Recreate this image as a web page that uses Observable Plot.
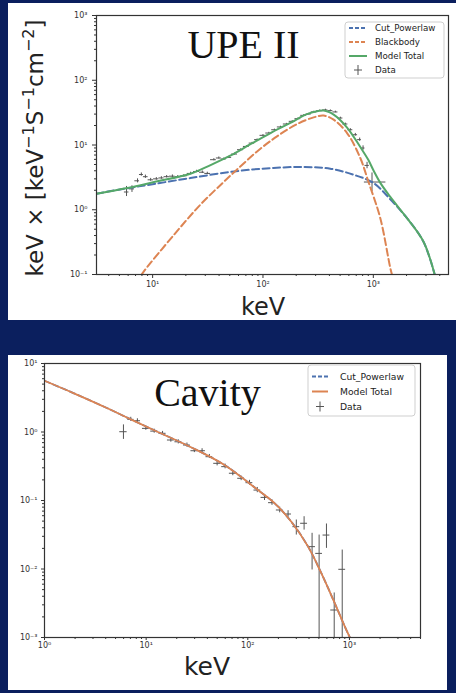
<!DOCTYPE html>
<html>
<head>
<meta charset="utf-8">
<script src="https://cdn.jsdelivr.net/npm/d3@7"></script>
<script src="https://cdn.jsdelivr.net/npm/@observablehq/plot@0.6"></script>
<style>
  html, body { margin: 0; padding: 0; }
  body { background: #0b1f5e; width: 456px; height: 693px; overflow: hidden; position: relative; font-family: "DejaVu Sans", sans-serif; }
  .panel { position: absolute; background: white; }
  #ov { position: absolute; left: 0; top: 0; pointer-events: none; }
</style>
</head>
<body>
<div id="top" class="panel" style="left:8px;top:3px;width:448px;height:317px"></div>
<div id="bot" class="panel" style="left:8px;top:355px;width:439px;height:335px"></div>
<svg id="ov" width="456" height="693"></svg>
<script>
// ---------- UPE II panel data ----------
const upeTitle = "UPE II";
const upeXTicks = [10, 100, 1000];
const upeYTicks = [0.1, 1, 10, 100, 1000];

const upeCplE = [3.1, 5.9, 10.3, 22, 54.5, 117, 234, 407, 664, 1007, 1425, 2020, 2850, 3600];
const upeCplF = [1.77, 2.15, 2.5, 3.09, 3.9, 4.4, 4.57, 4.3, 3.47, 2.58, 1.45, 0.74, 0.32, 0.1];

const upeBbE = [7.9, 8.3, 15.6, 27, 44, 58, 88.5, 134, 204, 288, 355, 437, 578, 762, 900, 1157, 1425, 1500];
const upeBbF = [0.098, 0.111, 0.41, 1.19, 2.68, 4.15, 7.95, 13.6, 21.1, 26.7, 28.5, 24.6, 15.3, 6.3, 2.74, 0.74, 0.126, 0.09];

const upeTotE = [3.1, 5.9, 10.3, 22, 33.5, 51, 77, 117, 177, 251, 355, 437, 578, 762, 900, 1007, 1157, 1425, 2020, 2850, 3600];
const upeTotF = [1.77, 2.16, 2.68, 3.6, 4.9, 6.9, 10.3, 15.3, 21.9, 30, 34, 29.4, 18.6, 9.3, 5.9, 4.0, 2.6, 1.58, 0.74, 0.32, 0.1];

const upeDatE = [5.8, 6.5, 7.3, 7.9, 8.6, 9.6, 10.8, 12.0, 13.4, 15.1, 16.9, 19.2, 22.1, 25, 28.2, 31.3, 35.9, 39.8, 44.2, 49, 55.2, 62.5, 70.8, 79.7, 88.5, 100, 113, 127, 144, 163, 184, 207, 234, 260, 288, 327, 368, 408, 453, 503, 558, 619, 687, 752, 807, 877, 973];
const upeDatF = [1.88, 2.1, 2.8, 3.5, 3.24, 2.9, 3.0, 3.1, 3.24, 3.3, 3.24, 3.35, 3.64, 3.9, 3.8, 3.64, 5.93, 6.3, 6.08, 6.45, 7.25, 8.46, 9.5, 10.7, 12.1, 14.1, 15.3, 17.2, 19, 21.1, 23.2, 25.5, 28.7, 30.1, 32.4, 33.9, 34.8, 33.9, 32.4, 26.1, 21.1, 17.2, 14.4, 12.1, 8.98, 4.84, 2.68];
const upeDatElo = [5.55, 6.15, 6.9, 7.6, 8.25, 9.1, 10.2, 11.4, 12.7, 14.2, 16.0, 18.0, 20.6, 23.5, 26.6, 29.7, 33.5, 37.8, 42, 46.5, 52, 58.8, 66.5, 75, 84, 94, 106, 120, 135, 153, 173, 195, 220, 247, 274, 307, 347, 388, 430, 478, 530, 588, 652, 720, 780, 840, 830];
const upeDatEhi = [6.1, 6.85, 7.6, 8.25, 9.1, 10.2, 11.4, 12.7, 14.2, 16.0, 18.0, 20.6, 23.5, 26.6, 29.7, 33.5, 37.8, 42, 46.5, 52, 58.8, 66.5, 75, 84, 94, 106, 120, 135, 153, 173, 195, 220, 247, 274, 307, 347, 388, 430, 478, 530, 588, 652, 720, 780, 840, 920, 1300];
const upeDatFlo = [1.6, 1.85, 2.6, 3.3, 3.05, 2.75, 2.86, 2.96, 3.1, 3.15, 3.1, 3.2, 3.48, 3.73, 3.63, 3.48, 5.7, 6.06, 5.85, 6.2, 7.0, 8.2, 9.2, 10.4, 11.8, 13.7, 14.9, 16.8, 18.5, 20.6, 22.6, 24.9, 28.0, 29.4, 31.6, 33.0, 33.9, 33.0, 31.5, 25.3, 20.4, 16.5, 13.7, 11.4, 8.3, 4.3, 1.9];
const upeDatFhi = [2.29, 2.35, 3.0, 3.7, 3.43, 3.05, 3.14, 3.24, 3.38, 3.45, 3.38, 3.5, 3.8, 4.07, 3.97, 3.8, 6.16, 6.54, 6.31, 6.7, 7.5, 8.72, 9.8, 11.0, 12.4, 14.5, 15.7, 17.6, 19.5, 21.6, 23.8, 26.1, 29.4, 30.8, 33.2, 34.8, 35.7, 34.8, 33.3, 26.9, 21.8, 17.9, 15.1, 12.8, 9.7, 5.4, 3.7];

// ---------- Cavity panel data ----------
const cavTitle = "Cavity";
const cavXTicks = [1, 10, 100, 1000];
const cavYTicks = [0.001, 0.01, 0.1, 1, 10];

const cavModelE = [1.0, 1.95, 4.16, 7.06, 12.9, 27.6, 58.9, 126, 184, 268, 392, 530, 718, 901, 1010];
const cavModelF = [5.6, 3.67, 2.22, 1.53, 1.01, 0.6, 0.33, 0.142, 0.091, 0.049, 0.0212, 0.00865, 0.00315, 0.00144, 0.001];

const cavDatE = [5.98, 7.06, 8.2, 9.93, 12, 14.5, 17.5, 20.7, 25.2, 29.8, 35.5, 41.9, 49.9, 59.8, 71.2, 86, 104, 124, 146, 173, 206, 249, 300, 358, 429, 503, 594, 708, 849];
const cavDatF = [1.01, 1.53, 1.46, 1.13, 1.03, 0.957, 0.764, 0.72, 0.646, 0.533, 0.533, 0.436, 0.349, 0.312, 0.25, 0.211, 0.182, 0.142, 0.111, 0.093, 0.0727, 0.0635, 0.0415, 0.0465, 0.0212, 0.0169, 0.0313, 0.00252, 0.0099];
const cavDatElo = [5.5, 6.6, 7.6, 9.2, 11.1, 13.4, 16.2, 19.2, 23.3, 27.6, 32.9, 38.8, 46.2, 55.4, 65.9, 79.6, 96, 115, 135, 160, 191, 230, 278, 331, 397, 466, 550, 655, 786];
const cavDatEhi = [6.5, 7.6, 8.8, 10.7, 13, 15.7, 18.9, 22.3, 27.2, 32.2, 38.3, 45.2, 53.9, 64.6, 76.9, 92.9, 112, 134, 158, 187, 222, 269, 324, 387, 463, 543, 642, 765, 917];
const cavDatFlo = [0.78, 1.43, 1.37, 1.06, 0.96, 0.89, 0.71, 0.67, 0.60, 0.50, 0.50, 0.41, 0.32, 0.29, 0.23, 0.195, 0.167, 0.13, 0.10, 0.085, 0.066, 0.057, 0.0313, 0.037, 0.00967, 0.0005, 0.02, 0.0005, 0.0005];
const cavDatFhi = [1.27, 1.64, 1.56, 1.21, 1.10, 1.02, 0.82, 0.77, 0.69, 0.57, 0.57, 0.47, 0.38, 0.34, 0.27, 0.227, 0.197, 0.155, 0.122, 0.102, 0.08, 0.071, 0.0519, 0.058, 0.0332, 0.0313, 0.0454, 0.00447, 0.0189];

// ---------- labels / legend ----------
const xLabel = "keV";
const legendUpe = ["Cut_Powerlaw", "Blackbody", "Model Total", "Data"];
const legendCav = ["Cut_Powerlaw", "Model Total", "Data"];

const C_BLUE = "#4c72b0", C_ORANGE = "#dd8452", C_GREEN = "#55a868", C_DATA = "#555";

// ---------- helpers ----------
const SUP = {"-": "\u207B", "0": "\u2070", "1": "\u00B9", "2": "\u00B2", "3": "\u00B3", "4": "\u2074", "5": "\u2075", "6": "\u2076", "7": "\u2077", "8": "\u2078", "9": "\u2079"};
const supFmt = d => "10" + String(Math.round(Math.log10(d))).split("").map(c => SUP[c]).join("");
function minorTicks(lo, hi) {
  const out = [];
  for (let p = Math.floor(Math.log10(lo)); p <= Math.ceil(Math.log10(hi)); p++)
    for (let k = 2; k <= 9; k++) { const v = k * Math.pow(10, p); if (v >= lo && v <= hi) out.push(v); }
  return out;
}
const pts = (E, F) => E.map((e, i) => ({x: e, y: F[i]}));
const errs = (E, F, El, Eh, Fl, Fh) => E.map((e, i) => ({x: e, y: F[i], xlo: El[i], xhi: Eh[i], ylo: Fl[i], yhi: Fh[i]}));

function axes(xT, yT, xDom, yDom, tx, ty, padX, padY) {
  return [
    Plot.axisX(minorTicks(xDom[0], xDom[1]), {tickSize: 2, tickFormat: () => "", label: null}),
    Plot.axisY(minorTicks(yDom[0], yDom[1]), {tickSize: 2, tickFormat: () => "", label: null}),
    Plot.axisX(xT, {tickSize: tx, tickPadding: padX, tickFormat: supFmt, label: null, fontSize: 8}),
    Plot.axisY(yT, {tickSize: ty, tickPadding: padY, tickFormat: supFmt, label: null, fontSize: 8})
  ];
}

// ---------- UPE II plot ----------
const upeX = [3.1, 4800], upeY = [0.1, 1000];
const upeErr = errs(upeDatE, upeDatF, upeDatElo, upeDatEhi, upeDatFlo, upeDatFhi);
const topPlot = Plot.plot({
  width: 448, height: 317,
  marginLeft: 88, marginTop: 12, marginRight: 8, marginBottom: 46,
  x: {type: "log", domain: upeX},
  y: {type: "log", domain: upeY},
  style: {background: "white", fontFamily: "DejaVu Sans", fontSize: "8px", color: "#333"},
  marks: [
    ...axes(upeXTicks, upeYTicks, upeX, upeY, 4, 4, 3, 5),
    Plot.ruleX(upeErr, {x: "x", y1: "ylo", y2: "yhi", stroke: C_DATA, strokeWidth: 1, clip: true}),
    Plot.ruleY(upeErr, {y: "y", x1: "xlo", x2: "xhi", stroke: C_DATA, strokeWidth: 1, clip: true}),
    Plot.line(pts(upeCplE, upeCplF), {x: "x", y: "y", stroke: C_BLUE, strokeWidth: 2, strokeDasharray: "7,3.5", curve: "catmull-rom", clip: true}),
    Plot.line(pts(upeBbE, upeBbF), {x: "x", y: "y", stroke: C_ORANGE, strokeWidth: 2, strokeDasharray: "7,3.5", curve: "catmull-rom", clip: true}),
    Plot.line(pts(upeTotE, upeTotF), {x: "x", y: "y", stroke: C_GREEN, strokeWidth: 2, curve: "catmull-rom", clip: true}),
    Plot.text([upeTitle], {frameAnchor: "top", dx: -29, dy: 42, lineAnchor: "bottom", fontFamily: "Liberation Serif", fontSize: 40, fill: "#111"}),
    Plot.frame({stroke: "#333", strokeWidth: 1.2})
  ]
});
document.getElementById("top").appendChild(topPlot);

// ---------- Cavity plot ----------
const cavX = [1, 5000], cavY = [0.001, 10];
const cavErr = errs(cavDatE, cavDatF, cavDatElo, cavDatEhi, cavDatFlo, cavDatFhi);
const botPlot = Plot.plot({
  width: 439, height: 335,
  marginLeft: 36, marginTop: 8, marginRight: 27, marginBottom: 53,
  x: {type: "log", domain: cavX},
  y: {type: "log", domain: cavY},
  style: {background: "white", fontFamily: "DejaVu Sans", fontSize: "8px", color: "#333"},
  marks: [
    ...axes(cavXTicks, cavYTicks, cavX, cavY, 3, 3, 2, 4),
    Plot.ruleX(cavErr, {x: "x", y1: "ylo", y2: "yhi", stroke: C_DATA, strokeWidth: 1, clip: true}),
    Plot.ruleY(cavErr, {y: "y", x1: "xlo", x2: "xhi", stroke: C_DATA, strokeWidth: 1, clip: true}),
    Plot.line(pts(cavModelE, cavModelF), {x: "x", y: "y", stroke: C_BLUE, strokeWidth: 1.8, strokeDasharray: "6,3", curve: "catmull-rom", clip: true}),
    Plot.line(pts(cavModelE, cavModelF), {x: "x", y: "y", stroke: C_ORANGE, strokeWidth: 1.8, curve: "catmull-rom", clip: true}),
    Plot.text([cavTitle], {frameAnchor: "top", dx: -25, dy: 42, lineAnchor: "bottom", fontFamily: "Liberation Serif", fontSize: 40, fill: "#111"}),
    Plot.frame({stroke: "#333", strokeWidth: 1.2})
  ]
});
document.getElementById("bot").appendChild(botPlot);

// ---------- overlay: axis titles and legends ----------
const ov = d3.select("#ov");
ov.append("text").attr("x", 263).attr("y", 315).attr("text-anchor", "middle")
  .attr("font-family", "DejaVu Sans").attr("font-size", 24).attr("fill", "#222").text(xLabel);
ov.append("text").attr("x", 207).attr("y", 675).attr("text-anchor", "middle")
  .attr("font-family", "DejaVu Sans").attr("font-size", 25).attr("fill", "#222").text(xLabel);

const yl = ov.append("text").attr("transform", "translate(43,148) rotate(-90)").attr("text-anchor", "middle")
  .attr("font-family", "DejaVu Sans").attr("font-size", 23).attr("fill", "#222");
const parts = [["keV \u00D7 [keV", 0], ["\u22121", 1], ["S", 0], ["\u22121", 1], ["cm", 0], ["\u22122", 1], ["]", 0]];
let raised = false;
parts.forEach(([t, s]) => {
  const ts = yl.append("tspan").text(t);
  if (s && !raised) { ts.attr("dy", -9).attr("font-size", 16); raised = true; }
  else if (s) { ts.attr("font-size", 16); }
  else if (raised) { ts.attr("dy", 9); raised = false; }
});

function legend(x, y, w, h, entries, styles, rowY, lx0, lx1, tx, fs) {
  ov.append("rect").attr("x", x).attr("y", y).attr("width", w).attr("height", h).attr("rx", 3)
    .attr("fill", "white").attr("fill-opacity", 0.85).attr("stroke", "#cfcfcf").attr("stroke-width", 1);
  entries.forEach((name, i) => {
    const st = styles[i], cy = rowY[i];
    if (st.type === "cross") {
      const cx = (lx0 + lx1) / 2;
      ov.append("line").attr("x1", cx - 4).attr("x2", cx + 4).attr("y1", cy).attr("y2", cy).attr("stroke", C_DATA);
      ov.append("line").attr("x1", cx).attr("x2", cx).attr("y1", cy - 5).attr("y2", cy + 5).attr("stroke", C_DATA);
    } else {
      ov.append("line").attr("x1", lx0).attr("x2", lx1).attr("y1", cy).attr("y2", cy)
        .attr("stroke", st.color).attr("stroke-width", 2).attr("stroke-dasharray", st.dash || null);
    }
    ov.append("text").attr("x", tx).attr("y", cy + 3).attr("font-family", "DejaVu Sans").attr("font-size", fs)
      .attr("fill", "#222").text(name);
  });
}
legend(345, 22, 99, 56, legendUpe,
  [{color: C_BLUE, dash: "4,2"}, {color: C_ORANGE, dash: "4,2"}, {color: C_GREEN}, {type: "cross"}],
  [28, 42, 56, 70], 349, 367, 375, 8.7);
legend(308, 365, 107, 51, legendCav,
  [{color: C_BLUE, dash: "4,2"}, {color: C_ORANGE}, {type: "cross"}],
  [376.5, 391.5, 406.5], 312, 328, 340, 9.2);
</script>
</body>
</html>
